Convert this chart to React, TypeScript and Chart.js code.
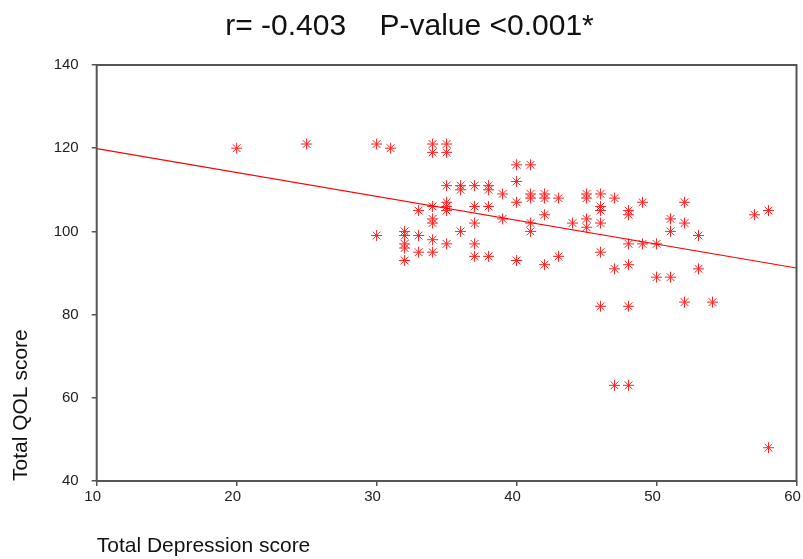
import React, { useEffect, useRef } from "react";
import { Chart, registerables } from "chart.js";

Chart.register(...registerables);

// Total Depression score (x) and Total QOL score (y) for each respondent
const depressionScores: number[] = [
  20, 25, 30, 31, 30,
  32, 32, 32, 32, 32,
  33, 33, 33,
  34, 34, 34, 34, 34, 34, 34,
  35, 35, 35, 35, 35, 35, 35,
  36, 36, 36,
  37, 37, 37, 37, 37,
  38, 38, 38, 38,
  39, 39,
  40, 40, 40, 40,
  41, 41, 41, 41, 41,
  42, 42, 42, 42,
  43, 43,
  44,
  45, 45, 45, 45,
  46, 46, 46, 46, 46, 46,
  47, 47, 47,
  48, 48, 48, 48, 48, 48,
  49, 49,
  50, 50,
  51, 51, 51,
  52, 52, 52,
  53, 53,
  54,
  57,
  58, 58,
];
const qolScores: number[] = [
  120, 121, 121, 120, 99,
  100, 99, 97, 96, 93,
  105, 99, 95,
  121, 119, 106, 103, 102, 98, 95,
  121, 119, 111, 107, 106, 105, 97,
  111, 110, 100,
  111, 106, 102, 97, 94,
  111, 110, 106, 94,
  109, 103,
  116, 112, 107, 93,
  116, 109, 108, 102, 100,
  109, 108, 104, 92,
  108, 94,
  102,
  109, 108, 103, 101,
  109, 106, 105, 102, 95, 82,
  108, 91, 63,
  105, 104, 97, 92, 82, 63,
  107, 97,
  97, 89,
  103, 100, 89,
  107, 102, 83,
  99, 91,
  83,
  104,
  105, 48,
];

// Fitted regression line endpoints
const fitX: number[] = [10, 60];
const fitY: number[] = [119.9, 91.2];

const xTicks: number[] = [10, 20, 30, 40, 50, 60];
const yTicks: number[] = [40, 60, 80, 100, 120, 140];

const titleText = "r= -0.403    P-value <0.001*";
const xTitle = "Total Depression score";
const yTitle = "Total QOL score";

const FONT = "'Liberation Sans', Arial, sans-serif";

export default function App() {
  const canvasRef = useRef<HTMLCanvasElement | null>(null);

  useEffect(() => {
    document.body.style.margin = "0";
    const canvas = canvasRef.current;
    if (!canvas) return;

    const boxPlugin = {
      id: "boxPlugin",
      afterDatasetsDraw(chart: any) {
        const { ctx, chartArea } = chart;
        ctx.save();
        ctx.strokeStyle = "#555";
        ctx.lineWidth = 2;
        ctx.strokeRect(chartArea.left, chartArea.top, chartArea.right - chartArea.left, chartArea.bottom - chartArea.top);
        ctx.restore();
      },
    };

    const scatterData = depressionScores.map((x, i) => ({ x, y: qolScores[i] }));
    const lineData = fitX.map((x, i) => ({ x, y: fitY[i] }));

    const chart = new Chart(canvas, {
      type: "scatter",
      data: {
        datasets: [
          {
            label: "Fit",
            type: "line",
            data: lineData,
            borderColor: "#ff0000",
            borderWidth: 1.2,
            pointRadius: 0,
            fill: false,
          } as any,
          {
            label: "Scores",
            data: scatterData,
            pointStyle: "star",
            pointRadius: 5.5,
            borderColor: "#ff2020",
            backgroundColor: "#ff2020",
            borderWidth: 1,
          },
        ],
      },
      options: {
        responsive: false,
        animation: false,
        layout: { padding: { left: 22, right: 6, top: 0, bottom: 0 } },
        plugins: {
          legend: { display: false },
          tooltip: { enabled: false },
          title: {
            display: true,
            text: titleText,
            color: "#111",
            font: { family: FONT, size: 30, weight: "normal" },
            padding: { top: 9, bottom: 20 },
          },
        },
        scales: {
          x: {
            type: "linear",
            min: 10,
            max: 60,
            border: { display: false },
            grid: { display: true, drawOnChartArea: false, drawTicks: true, tickLength: 5, color: "#555", lineWidth: 1.5 },
            afterBuildTicks: (scale: any) => {
              scale.ticks = xTicks.map((v) => ({ value: v }));
            },
            afterFit: (scale: any) => {
              scale.height = 78;
              scale.paddingLeft = 0;
              scale.paddingRight = 0;
            },
            ticks: {
              color: "#222",
              font: { family: FONT, size: 15 },
              padding: 2,
              maxRotation: 0,
              labelOffset: -4,
            },
            title: {
              display: true,
              text: xTitle,
              align: "start",
              color: "#111",
              font: { family: FONT, size: 21 },
              padding: { top: 0, bottom: 0 },
            },
          },
          y: {
            type: "linear",
            min: 40,
            max: 140,
            border: { display: false },
            grid: { display: true, drawOnChartArea: false, drawTicks: true, tickLength: 5, color: "#555", lineWidth: 1.5 },
            afterBuildTicks: (scale: any) => {
              scale.ticks = yTicks.map((v) => ({ value: v }));
            },
            afterFit: (scale: any) => {
              scale.width = 74.7;
            },
            ticks: {
              color: "#222",
              font: { family: FONT, size: 15 },
              padding: 13,
            },
            title: {
              display: true,
              text: yTitle,
              align: "start",
              color: "#111",
              font: { family: FONT, size: 21 },
              padding: { top: -13.6, bottom: 0 },
            },
          },
        },
      },
      plugins: [boxPlugin],
    });

    return () => {
      chart.destroy();
    };
  }, []);

  return (
    <div style={{ width: 803, height: 559 }}>
      <canvas ref={canvasRef} width={803} height={559} />
    </div>
  );
}
